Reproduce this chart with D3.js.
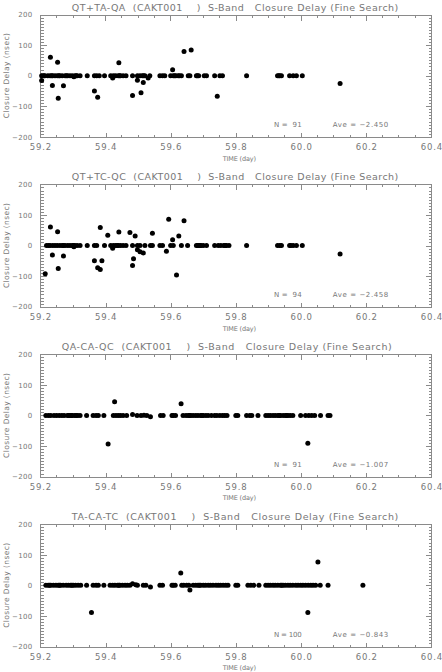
<!DOCTYPE html>
<html><head><meta charset="utf-8">
<script src="https://cdn.jsdelivr.net/npm/d3@7"></script>
<style>
html,body{margin:0;padding:0;background:#fff;}
svg{display:block;}
text{font-family:"DejaVu Sans",sans-serif;fill:#777;}
</style></head><body>
<svg id="chart" width="442" height="672"></svg>
<script>
// ---------- data ----------
const xTickValues = [59.2, 59.4, 59.6, 59.8, 60.0, 60.2, 60.4];
const xTickLabels = ["59.2", "59.4", "59.6", "59.8", "60.0", "60.2", "60.4"];
const yTickValues = [-200, -100, 0, 100, 200];
const yTickLabels = ["\u2212200", "\u2212100", "0", "100", "200"];
const baselines = ["QT+TA-QA", "QT+TC-QC", "QA-CA-QC", "TA-CA-TC"];
const titleSuffix = "  (CAKT001    )  S-Band   Closure Delay (Fine Search)";
const counts = ["91", "94", "91", "100"];
const averages = ["\u22122.450", "\u22122.458", "\u22121.007", "\u22120.843"];

const p1Time = [59.205,59.215,59.224,59.231,59.239,59.246,59.253,59.261,59.268,59.277,59.285,59.292,59.299,59.307,59.314,59.323,59.345,59.367,59.374,59.382,59.398,59.417,59.425,59.432,59.440,59.447,59.455,59.464,59.484,59.499,59.507,59.514,59.522,59.537,59.568,59.576,59.583,59.601,59.609,59.617,59.624,59.634,59.655,59.660,59.680,59.687,59.704,59.711,59.736,59.752,59.760,59.834,59.929,59.936,59.941,59.966,59.977,59.987,60.005,
  59.212,59.236,59.258,59.281,59.311,59.444,59.518,59.613,59.628,59.683,59.933,
  59.205,59.232,59.238,59.254,59.256,59.272,59.304,59.367,59.377,59.423,59.442,59.484,59.499,59.510,59.517,59.532,59.607,59.642,59.664,59.744,60.121];
const p1Delay = [0,0,0,0,0,0,0,0,0,0,0,0,0,0,0,0,0,0,0,0,0,0,0,0,0,0,0,0,0,0,0,0,0,0,0,0,0,0,0,0,0,0,0,0,0,0,0,0,0,0,0,0,0,0,0,0,0,0,0,
  0,0,0,0,0,0,0,0,0,0,0,
  -16,60,-32,44,-74,-33,-4,-50,-71,-8,42,-65,-15,-56,-22,-8,19,79,84,-67,-26];

const p2Time = [59.220,59.231,59.239,59.246,59.253,59.261,59.268,59.277,59.285,59.292,59.299,59.307,59.314,59.323,59.345,59.367,59.374,59.398,59.417,59.425,59.432,59.440,59.447,59.455,59.464,59.484,59.499,59.507,59.522,59.539,59.545,59.568,59.576,59.601,59.609,59.634,59.653,59.680,59.687,59.694,59.701,59.711,59.736,59.747,59.755,59.764,59.772,59.780,59.834,59.929,59.936,59.941,59.966,59.977,59.987,60.005,
  59.226,59.272,59.303,59.437,59.684,59.691,59.768,59.970,
  59.216,59.232,59.238,59.254,59.256,59.272,59.304,59.367,59.377,59.385,59.385,59.390,59.408,59.423,59.442,59.476,59.484,59.487,59.492,59.499,59.507,59.517,59.545,59.588,59.595,59.607,59.619,59.626,59.642,60.121];
const p2Delay = [0,0,0,0,0,0,0,0,0,0,0,0,0,0,0,0,0,0,0,0,0,0,0,0,0,0,0,0,0,0,0,0,0,0,0,0,0,0,0,0,0,0,0,0,0,0,0,0,0,0,0,0,0,0,0,0,
  0,0,0,0,0,0,0,0,
  -92,61,-31,45,-75,-34,-4,-50,-73,-78,59,-50,34,-9,44,43,-65,-43,31,-14,-20,-24,40,-19,86,19,-96,31,81,-28];

const p3Time = [59.218,59.233,59.243,59.251,59.259,59.267,59.274,59.284,59.292,59.300,59.307,59.316,59.323,59.343,59.363,59.372,59.379,59.396,59.425,59.433,59.440,59.447,59.455,59.466,59.484,59.498,59.510,59.519,59.528,59.539,59.570,59.578,59.605,59.609,59.616,59.639,59.648,59.655,59.663,59.670,59.678,59.685,59.693,59.701,59.709,59.716,59.726,59.736,59.743,59.752,59.760,59.767,59.774,59.801,59.807,59.834,59.844,59.850,59.869,59.893,59.900,59.907,59.915,59.922,59.930,59.938,59.946,59.953,59.961,59.968,59.976,60.000,60.015,60.025,60.034,60.043,60.061,60.084,60.090,
  59.226,59.288,59.296,59.311,59.659,59.697,59.934,59.957,
  59.409,59.429,59.633,60.022];
const p3Delay = [0,0,0,0,0,0,0,0,0,0,0,0,0,0,0,0,0,0,0,0,0,0,0,0,3,0,0,1,0,-4,0,0,0,0,0,0,0,0,0,0,0,0,0,0,0,0,0,0,0,0,0,0,0,0,0,0,0,0,0,0,0,0,0,0,0,0,0,0,0,0,0,0,0,0,0,0,0,0,0,
  0,0,0,0,0,0,0,0,
  -93,45,38,-91];

const p4Time = [59.218,59.225,59.233,59.241,59.249,59.256,59.263,59.271,59.280,59.287,59.294,59.302,59.309,59.317,59.325,59.343,59.363,59.372,59.379,59.396,59.415,59.423,59.430,59.438,59.445,59.453,59.461,59.468,59.476,59.484,59.494,59.499,59.517,59.525,59.539,59.568,59.576,59.605,59.609,59.615,59.635,59.641,59.650,59.657,59.670,59.678,59.685,59.693,59.701,59.708,59.716,59.723,59.731,59.740,59.747,59.754,59.762,59.770,59.777,59.801,59.807,59.838,59.847,59.856,59.872,59.893,59.900,59.907,59.915,59.922,59.930,59.938,59.946,59.953,59.961,59.968,59.976,59.985,59.992,60.000,60.007,60.015,60.023,60.031,60.038,60.046,60.060,60.084,
  59.229,59.260,59.298,59.442,59.689,59.942,
  59.358,59.632,59.660,60.022,60.053,60.191];
const p4Delay = [0,0,0,0,0,0,0,0,0,0,0,0,0,0,0,0,0,0,0,0,0,0,0,0,0,0,0,0,0,5,2,0,0,0,-5,0,0,0,0,0,0,0,0,0,0,0,0,0,0,0,0,0,0,0,0,0,0,0,0,0,0,0,0,0,0,0,0,0,0,0,0,0,0,0,0,0,0,0,0,0,0,0,0,0,0,0,0,0,
  0,0,0,0,0,0,
  -89,40,-15,-89,76,0];

const panelTimes = [p1Time, p2Time, p3Time, p4Time];
const panelDelays = [p1Delay, p2Delay, p3Delay, p4Delay];

// ---------- layout ----------
const svg = d3.select("#chart");
const left = 40, right = 431;
const panelTop0 = 14.5, panelStep = 169.9, plotH = 122.3;
const titleX0 = [71.7, 71.7, 61.7, 71.7];
const titleX1 = [398.3, 398.3, 391.7, 398.3];
const axisColor = "#8a8a8a";

const x = d3.scaleLinear().domain([59.2, 60.4]).range([left, right]);
const xMinor = d3.range(59.25, 60.4, 0.05).filter(v => Math.abs(Math.round(v * 5) - v * 5) > 1e-6);
const yMinor = d3.range(-190, 200, 10).filter(v => v % 100 !== 0);

function styleAxis(fs, ls) {
  return g => {
    g.attr("font-family", null).attr("font-size", null).attr("color", axisColor);
    g.select(".domain").remove();
    g.selectAll("line").attr("shape-rendering", "crispEdges");
    g.selectAll("text").style("font-size", fs).style("fill", "#777").style("letter-spacing", ls || "0px");
  };
}

for (let i = 0; i < 4; i++) {
  const top = panelTop0 + i * panelStep;
  const bottom = top + plotH;
  const y = d3.scaleLinear().domain([-200, 200]).range([bottom, top]);
  const g = svg.append("g");

  // frame
  g.append("rect").attr("x", left + 0.5).attr("y", Math.round(top) + 0.5)
    .attr("width", right - left).attr("height", Math.round(bottom) - Math.round(top))
    .attr("fill", "none").attr("stroke", axisColor).attr("stroke-width", 1);

  const yb = Math.round(bottom) + 0.5, yt = Math.round(top) + 0.5;
  // bottom axis
  g.append("g").attr("transform", `translate(0.4,${yb})`)
    .call(d3.axisBottom(x).tickValues(xTickValues).tickFormat((d, k) => xTickLabels[k]).tickSizeInner(-5).tickSizeOuter(0).tickPadding(6.5))
    .call(styleAxis("8.5px", "0.8px"));
  g.selectAll("g").filter(function(){return false;});
  g.append("g").attr("transform", `translate(0,${yb})`)
    .call(d3.axisBottom(x).tickValues(xMinor).tickFormat("").tickSizeInner(-2.5).tickSizeOuter(0))
    .call(styleAxis("8.5px"));
  // top axis
  g.append("g").attr("transform", `translate(0,${yt})`)
    .call(d3.axisTop(x).tickValues(xTickValues).tickFormat("").tickSizeInner(-5).tickSizeOuter(0))
    .call(styleAxis("8.5px"));
  g.append("g").attr("transform", `translate(0,${yt})`)
    .call(d3.axisTop(x).tickValues(xMinor).tickFormat("").tickSizeInner(-2.5).tickSizeOuter(0))
    .call(styleAxis("8.5px"));
  // left axis
  g.append("g").attr("transform", `translate(${left + 0.5},0)`)
    .call(d3.axisLeft(y).tickValues(yTickValues).tickFormat((d, k) => yTickLabels[k]).tickSizeInner(-6).tickSizeOuter(0).tickPadding(8))
    .call(styleAxis("7px", "0.3px"));
  g.append("g").attr("transform", `translate(${left + 0.5},0)`)
    .call(d3.axisLeft(y).tickValues(yMinor).tickFormat("").tickSizeInner(-3).tickSizeOuter(0))
    .call(styleAxis("7px"));
  // right axis
  g.append("g").attr("transform", `translate(${right + 0.5},0)`)
    .call(d3.axisRight(y).tickValues(yTickValues).tickFormat("").tickSizeInner(-6).tickSizeOuter(0))
    .call(styleAxis("7px"));
  g.append("g").attr("transform", `translate(${right + 0.5},0)`)
    .call(d3.axisRight(y).tickValues(yMinor).tickFormat("").tickSizeInner(-3).tickSizeOuter(0))
    .call(styleAxis("7px"));

  // title
  g.append("text").attr("x", titleX0[i]).attr("y", top - 4)
    .attr("xml:space", "preserve").style("white-space", "pre")
    .attr("textLength", titleX1[i] - titleX0[i]).attr("lengthAdjust", "spacing")
    .style("font-size", "9.5px")
    .text(baselines[i] + titleSuffix);

  // x label
  g.append("text").attr("x", 239.3).attr("y", bottom + 23.8).attr("text-anchor", "middle")
    .attr("xml:space", "preserve").style("white-space", "pre")
    .attr("textLength", 33.3).attr("lengthAdjust", "spacing")
    .style("font-size", "6.5px").text("TIME (day)");

  // y label
  g.append("text").attr("transform", `translate(9,${(top + bottom) / 2}) rotate(-90)`)
    .attr("text-anchor", "middle").attr("textLength", 85).attr("lengthAdjust", "spacing")
    .style("font-size", "7.5px").text("Closure Delay (nsec)");

  // annotations
  g.append("text").attr("x", 274).attr("y", bottom - 10)
    .attr("xml:space", "preserve").style("white-space", "pre")
    .attr("textLength", 27.7).attr("lengthAdjust", "spacing")
    .style("font-size", "7px").text(counts[i].length < 3 ? "N =  " + counts[i] : "N = " + counts[i]);
  g.append("text").attr("x", 332.7).attr("y", bottom - 10)
    .attr("xml:space", "preserve").style("white-space", "pre")
    .attr("textLength", 55.6).attr("lengthAdjust", "spacing")
    .style("font-size", "7px").text("Ave = " + averages[i]);

  // points
  const pts = panelTimes[i].map((t, k) => [t, panelDelays[i][k]]);
  g.append("g").selectAll("circle").data(pts).join("circle")
    .attr("cx", d => x(d[0])).attr("cy", d => y(d[1])).attr("r", 2.5).attr("fill", "#000");
}
</script>
</body></html>
